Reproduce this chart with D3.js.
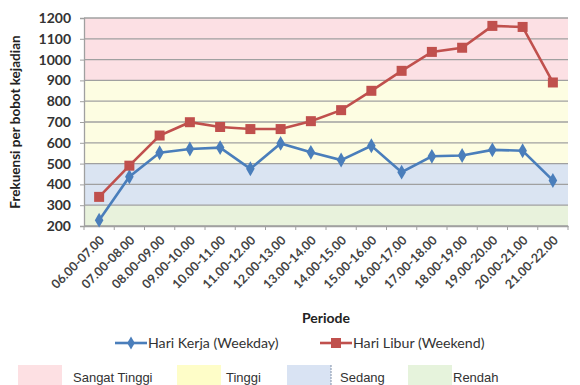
<!DOCTYPE html>
<html><head><meta charset="utf-8">
<script src="https://cdn.jsdelivr.net/npm/d3@7"></script>
<style>
html,body{margin:0;padding:0;background:#fff;}
svg{display:block;font-family:Lato,"Open Sans",sans-serif;}
</style></head>
<body><svg id="c" width="580" height="385"></svg>
<script>
const categories = ["06.00-07.00","07.00-08.00","08.00-09.00","09.00-10.00","10.00-11.00","11.00-12.00","12.00-13.00","13.00-14.00","14.00-15.00","15.00-16.00","16.00-17.00","17.00-18.00","18.00-19.00","19.00-20.00","20.00-21.00","21.00-22.00"];
const weekday = [228,437,552,570,577,475,597,554,517,586,459,535,539,566,562,419];
const weekend = [340,490,635,699,676,666,666,704,757,850,946,1037,1057,1162,1157,890];
const yTicks = [200,300,400,500,600,700,800,900,1000,1100,1200];
const bands = [
  {name:"Sangat Tinggi", from:900, to:1200, color:"#fce0e4", legend:"#fde0e3"},
  {name:"Tinggi", from:500, to:900, color:"#fdfde2", legend:"#fefdc8"},
  {name:"Sedang", from:300, to:500, color:"#dae4f2", legend:"#d9e3f3"},
  {name:"Rendah", from:200, to:300, color:"#e8f2dc", legend:"#e6f3dc"}
];
const seriesNames = ["Hari Kerja (Weekday)","Hari Libur (Weekend)"];
const seriesColors = ["#4a7ebb","#c0504d"];

const svg = d3.select("#c");
const L=84, R=568, T=18, B=226;
const x = d3.scaleBand().domain(categories).range([L,R]).padding(0);
const y = d3.scaleLinear().domain([200,1200]).range([B,T]);

// bands
svg.append("g").selectAll("rect").data(bands).join("rect")
  .attr("x",L).attr("width",R-L)
  .attr("y",d=>y(d.to)).attr("height",d=>y(d.from)-y(d.to))
  .attr("fill",d=>d.color);

// gridlines
svg.append("g").selectAll("line").data(yTicks).join("line")
  .attr("x1",L).attr("x2",R).attr("y1",d=>y(d)).attr("y2",d=>y(d))
  .attr("stroke","#a0a0a0").attr("stroke-width",1.3);

// y axis
const yAxis = svg.append("g").attr("transform",`translate(${L},0)`)
  .call(d3.axisLeft(y).tickValues(yTicks).tickSize(4).tickPadding(9).tickFormat(d3.format("d")));
yAxis.select(".domain").attr("stroke","#a0a0a0").attr("stroke-width",1.3);
yAxis.selectAll(".tick line").attr("stroke","#a0a0a0");
yAxis.selectAll("text").attr("font-size","14px").attr("font-weight","bold").attr("fill","#333")
  .attr("font-family","Lato");

// x axis
const xAxis = svg.append("g").attr("transform",`translate(0,${B})`)
  .call(d3.axisBottom(x).tickSize(0).tickFormat(""));
xAxis.select(".domain").attr("stroke","#a0a0a0").attr("stroke-width",1.3);
const bounds = categories.map(c=>x(c)).concat([R]);
svg.append("g").selectAll("line").data(bounds).join("line")
  .attr("x1",d=>d).attr("x2",d=>d).attr("y1",B).attr("y2",B+4)
  .attr("stroke","#a0a0a0");
svg.append("g").selectAll("text").data(categories).join("text")
  .attr("transform",d=>`translate(${x(d)+x.bandwidth()/2+6},${B+15}) rotate(-45)`)
  .attr("text-anchor","end").attr("font-size","12.5px").attr("font-weight","bold")
  .attr("fill","#444").text(d=>d);

// axis titles
svg.append("text").attr("transform",`translate(20,${(T+B)/2}) rotate(-90)`)
  .attr("text-anchor","middle").attr("font-size","13.5px").attr("font-weight","bold")
  .attr("fill","#222").text("Frekuensi per bobot kejadian");
svg.append("text").attr("x",(L+R)/2).attr("y",323)
  .attr("text-anchor","middle").attr("font-size","14px").attr("font-weight","bold")
  .attr("fill","#222").text("Periode");

// lines
const line = d3.line().x((d,i)=>x(categories[i])+x.bandwidth()/2).y(d=>y(d));
[weekday,weekend].forEach((s,k)=>{
  svg.append("path").datum(s).attr("d",line).attr("fill","none")
    .attr("stroke",seriesColors[k]).attr("stroke-width",2.6);
});
const diamond = d3.symbol().type(d3.symbolDiamond).size(64);
svg.append("g").selectAll("path").data(weekday).join("path")
  .attr("transform",(d,i)=>`translate(${x(categories[i])+x.bandwidth()/2},${y(d)})`)
  .attr("d",diamond).attr("fill",seriesColors[0]);
svg.append("g").selectAll("rect").data(weekend).join("rect")
  .attr("x",(d,i)=>x(categories[i])+x.bandwidth()/2-5).attr("y",d=>y(d)-5)
  .attr("width",10).attr("height",10).attr("fill",seriesColors[1]);

// series legend
const leg = [{x:115},{x:320}];
seriesNames.forEach((n,k)=>{
  const g = svg.append("g").attr("transform",`translate(${leg[k].x},343)`);
  g.append("line").attr("x1",0).attr("x2",32).attr("y1",0).attr("y2",0)
    .attr("stroke",seriesColors[k]).attr("stroke-width",2.6);
  if(k===0) g.append("path").attr("transform","translate(16,0)").attr("d",d3.symbol().type(d3.symbolDiamond).size(50)).attr("fill",seriesColors[0]);
  else g.append("rect").attr("x",11).attr("y",-5).attr("width",10).attr("height",10).attr("fill",seriesColors[1]);
  g.append("text").attr("x",33).attr("y",5).attr("font-size","14.2px").attr("fill","#333").text(n);
});

// band legend
const bandLeg = [{bx:18,tx:73},{bx:177,tx:226},{bx:287,tx:340},{bx:408,tx:453}];
bands.forEach((b,k)=>{
  svg.append("rect").attr("x",bandLeg[k].bx).attr("y",365).attr("width",44).attr("height",25).attr("fill",b.legend);
  svg.append("text").attr("x",bandLeg[k].tx).attr("y",382).attr("font-size","13px")
    .attr("font-family","'Liberation Sans',Arial,sans-serif").attr("fill","#333").text(b.name);
});
svg.append("line").attr("x1",331).attr("x2",331).attr("y1",365).attr("y2",385)
  .attr("stroke","#8090a8").attr("stroke-dasharray","2,1");
</script></body></html>
